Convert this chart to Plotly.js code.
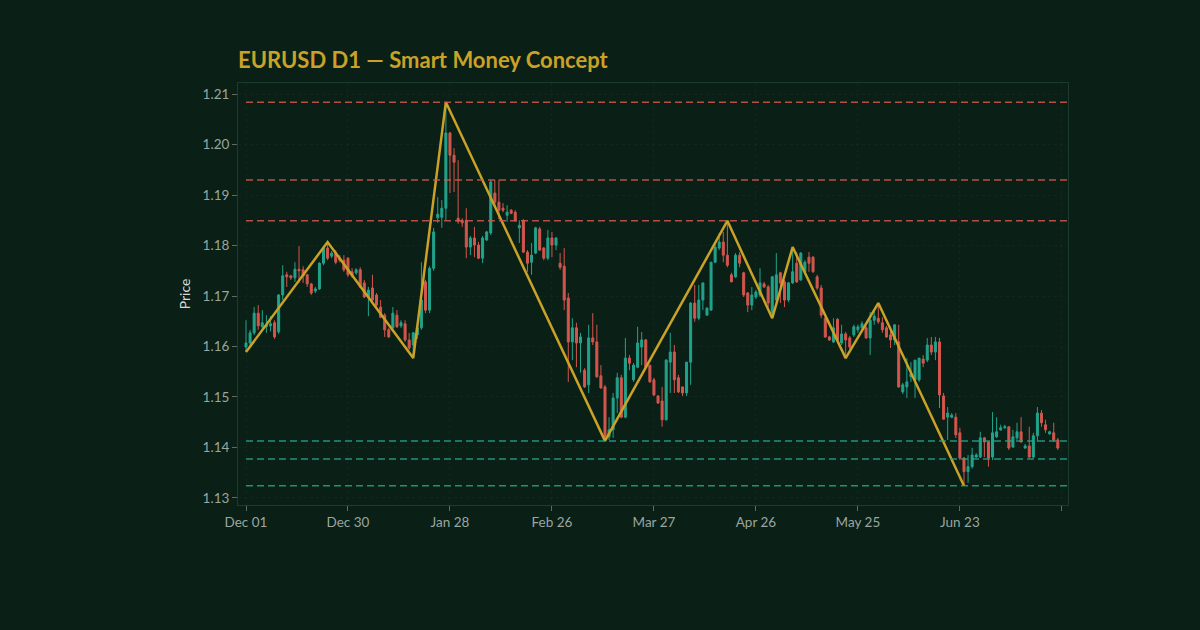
<!DOCTYPE html>
<html>
<head>
<meta charset="utf-8">
<script src="https://cdn.plot.ly/plotly-3.0.1.min.js"></script>
<style>
  html, body { margin: 0; padding: 0; background: #0a1f16; }
  #chart { width: 1200px; height: 630px; }
</style>
</head>
<body>
<div id="chart"></div>
<script>
// ---- Data (EURUSD daily candles) ----
const candleIndex = Array.from({length: 200}, (_, i) => i);

const openPx = [
1.1599,1.1607,1.1627,1.1666,1.1639,1.1639,1.1641,1.1647,1.1629,1.1702,
1.1742,1.1740,1.1736,1.1753,1.1752,1.1742,1.1724,1.1710,1.1714,1.1765,
1.1795,1.1779,1.1785,1.1775,1.1771,1.1775,1.1748,1.1746,1.1752,1.1726,
1.1698,1.1716,1.1702,1.1678,1.1662,1.1633,1.1637,1.1662,1.1641,1.1645,
1.1613,1.1603,1.1623,1.1637,1.1728,1.1672,1.1755,1.1855,1.1856,1.1874,
1.2023,1.1979,1.1854,1.1850,1.1850,1.1797,1.1815,1.1801,1.1775,1.1811,
1.1825,1.1904,1.1886,1.1874,1.1860,1.1870,1.1866,1.1835,1.1850,1.1787,
1.1767,1.1785,1.1833,1.1795,1.1775,1.1815,1.1801,1.1765,1.1759,1.1696,
1.1609,1.1637,1.1607,1.1553,1.1524,1.1617,1.1609,1.1542,1.1520,1.1421,
1.1435,1.1498,1.1538,1.1460,1.1577,1.1534,1.1559,1.1599,1.1613,1.1563,
1.1534,1.1502,1.1492,1.1455,1.1569,1.1589,1.1538,1.1520,1.1508,1.1569,
1.1686,1.1656,1.1692,1.1662,1.1672,1.1767,1.1795,1.1807,1.1781,1.1742,
1.1738,1.1781,1.1746,1.1706,1.1682,1.1698,1.1702,1.1724,1.1718,1.1666,
1.1692,1.1746,1.1728,1.1692,1.1726,1.1765,1.1732,1.1748,1.1777,1.1777,
1.1738,1.1716,1.1656,1.1619,1.1609,1.1654,1.1607,1.1625,1.1617,1.1623,
1.1633,1.1637,1.1637,1.1617,1.1652,1.1656,1.1647,1.1637,1.1623,1.1613,
1.1609,1.1510,1.1520,1.1540,1.1534,1.1534,1.1575,1.1573,1.1603,1.1589,
1.1609,1.1502,1.1460,1.1460,1.1460,1.1429,1.1379,1.1352,1.1362,1.1381,
1.1381,1.1419,1.1411,1.1381,1.1421,1.1435,1.1439,1.1441,1.1401,1.1419,
1.1431,1.1399,1.1403,1.1381,1.1423,1.1468,1.1445,1.1427,1.1429,1.1415
];
const highPx = [
1.1652,1.1633,1.1678,1.1682,1.1672,1.1662,1.1660,1.1652,1.1704,1.1761,
1.1748,1.1742,1.1767,1.1799,1.1759,1.1744,1.1726,1.1718,1.1767,1.1799,
1.1807,1.1789,1.1791,1.1781,1.1781,1.1777,1.1755,1.1755,1.1757,1.1732,
1.1718,1.1742,1.1706,1.1692,1.1666,1.1637,1.1678,1.1672,1.1652,1.1652,
1.1627,1.1629,1.1645,1.1767,1.1732,1.1759,1.1835,1.1896,1.1890,1.2084,
1.2025,1.1993,1.1969,1.1854,1.1874,1.1819,1.1837,1.1807,1.1819,1.1829,
1.1930,1.1930,1.1930,1.1884,1.1880,1.1872,1.1870,1.1850,1.1852,1.1791,
1.1805,1.1837,1.1837,1.1797,1.1831,1.1827,1.1817,1.1785,1.1795,1.1706,
1.1656,1.1647,1.1627,1.1557,1.1643,1.1666,1.1643,1.1563,1.1524,1.1460,
1.1508,1.1548,1.1544,1.1617,1.1583,1.1567,1.1639,1.1629,1.1615,1.1563,
1.1538,1.1504,1.1520,1.1575,1.1627,1.1603,1.1544,1.1520,1.1569,1.1688,
1.1722,1.1722,1.1726,1.1678,1.1767,1.1805,1.1825,1.1827,1.1849,1.1746,
1.1785,1.1787,1.1748,1.1708,1.1718,1.1712,1.1755,1.1728,1.1722,1.1740,
1.1785,1.1748,1.1732,1.1728,1.1797,1.1787,1.1787,1.1771,1.1787,1.1779,
1.1742,1.1722,1.1658,1.1621,1.1656,1.1656,1.1643,1.1629,1.1621,1.1643,
1.1643,1.1650,1.1641,1.1668,1.1672,1.1686,1.1658,1.1641,1.1639,1.1643,
1.1643,1.1528,1.1577,1.1569,1.1573,1.1577,1.1583,1.1617,1.1619,1.1619,
1.1617,1.1508,1.1480,1.1468,1.1468,1.1439,1.1381,1.1385,1.1399,1.1389,
1.1431,1.1421,1.1411,1.1470,1.1460,1.1445,1.1445,1.1441,1.1435,1.1449,
1.1460,1.1407,1.1441,1.1429,1.1480,1.1474,1.1455,1.1433,1.1449,1.1419
];
const lowPx = [
1.1589,1.1599,1.1623,1.1633,1.1633,1.1627,1.1630,1.1615,1.1625,1.1692,
1.1718,1.1732,1.1728,1.1726,1.1726,1.1718,1.1702,1.1706,1.1712,1.1761,
1.1771,1.1775,1.1763,1.1767,1.1748,1.1738,1.1736,1.1742,1.1716,1.1696,
1.1660,1.1688,1.1678,1.1656,1.1619,1.1617,1.1629,1.1637,1.1637,1.1609,
1.1593,1.1577,1.1615,1.1633,1.1666,1.1666,1.1750,1.1845,1.1835,1.1850,
1.1904,1.1906,1.1843,1.1837,1.1775,1.1781,1.1777,1.1773,1.1765,1.1809,
1.1821,1.1876,1.1852,1.1866,1.1847,1.1862,1.1847,1.1805,1.1785,1.1748,
1.1742,1.1783,1.1789,1.1771,1.1771,1.1777,1.1791,1.1752,1.1672,1.1530,
1.1573,1.1559,1.1548,1.1518,1.1508,1.1603,1.1538,1.1516,1.1413,1.1415,
1.1419,1.1468,1.1458,1.1458,1.1553,1.1530,1.1557,1.1563,1.1557,1.1528,
1.1502,1.1486,1.1441,1.1453,1.1508,1.1508,1.1508,1.1502,1.1502,1.1524,
1.1649,1.1652,1.1672,1.1662,1.1672,1.1765,1.1791,1.1767,1.1757,1.1728,
1.1736,1.1757,1.1698,1.1668,1.1672,1.1694,1.1698,1.1716,1.1678,1.1656,
1.1688,1.1686,1.1678,1.1688,1.1724,1.1726,1.1730,1.1746,1.1748,1.1746,
1.1712,1.1656,1.1617,1.1611,1.1607,1.1611,1.1603,1.1577,1.1595,1.1619,
1.1627,1.1633,1.1615,1.1583,1.1643,1.1645,1.1627,1.1617,1.1597,1.1603,
1.1518,1.1506,1.1498,1.1530,1.1498,1.1530,1.1559,1.1569,1.1583,1.1573,
1.1478,1.1455,1.1415,1.1458,1.1419,1.1375,1.1324,1.1330,1.1358,1.1379,
1.1379,1.1381,1.1362,1.1375,1.1419,1.1433,1.1437,1.1395,1.1399,1.1415,
1.1409,1.1397,1.1379,1.1379,1.1411,1.1441,1.1429,1.1425,1.1411,1.1395
];
const closePx = [
1.1607,1.1627,1.1666,1.1641,1.1647,1.1643,1.1645,1.1619,1.1702,1.1740,
1.1738,1.1736,1.1753,1.1750,1.1740,1.1724,1.1706,1.1714,1.1765,1.1795,
1.1775,1.1785,1.1767,1.1771,1.1752,1.1742,1.1740,1.1752,1.1718,1.1698,
1.1712,1.1692,1.1682,1.1658,1.1633,1.1619,1.1666,1.1639,1.1647,1.1613,
1.1597,1.1627,1.1637,1.1692,1.1672,1.1755,1.1827,1.1862,1.1874,1.2023,
1.1979,1.1965,1.1848,1.1845,1.1797,1.1815,1.1801,1.1775,1.1815,1.1827,
1.1926,1.1886,1.1870,1.1870,1.1866,1.1864,1.1850,1.1840,1.1787,1.1765,
1.1781,1.1835,1.1791,1.1775,1.1815,1.1801,1.1815,1.1757,1.1692,1.1609,
1.1637,1.1607,1.1619,1.1520,1.1617,1.1609,1.1540,1.1518,1.1421,1.1435,
1.1498,1.1538,1.1460,1.1577,1.1567,1.1563,1.1607,1.1613,1.1559,1.1530,
1.1504,1.1488,1.1455,1.1573,1.1589,1.1534,1.1510,1.1508,1.1569,1.1686,
1.1656,1.1692,1.1726,1.1676,1.1767,1.1797,1.1807,1.1781,1.1761,1.1728,
1.1781,1.1765,1.1702,1.1682,1.1702,1.1708,1.1726,1.1718,1.1686,1.1738,
1.1742,1.1726,1.1692,1.1726,1.1748,1.1728,1.1785,1.1767,1.1765,1.1748,
1.1716,1.1662,1.1619,1.1613,1.1637,1.1613,1.1625,1.1613,1.1599,1.1639,
1.1639,1.1645,1.1617,1.1652,1.1660,1.1649,1.1633,1.1619,1.1613,1.1643,
1.1520,1.1524,1.1530,1.1546,1.1573,1.1577,1.1567,1.1603,1.1589,1.1609,
1.1504,1.1456,1.1468,1.1464,1.1425,1.1379,1.1352,1.1362,1.1385,1.1385,
1.1419,1.1411,1.1379,1.1429,1.1431,1.1439,1.1441,1.1399,1.1421,1.1431,
1.1411,1.1403,1.1381,1.1423,1.1468,1.1449,1.1435,1.1431,1.1415,1.1399
];

// Swing points of the zigzag (candle index and whether it is a high or a low)
const swingIndex = [0, 20, 41, 49, 88, 118, 129, 134, 147, 155, 176];
const swingType  = ['L','H','L','H','L','H','L','H','L','H','L'];

// Liquidity / structure levels
const resistanceLevels = [1.2084, 1.1930, 1.1849];
const supportLevels    = [1.1413, 1.1377, 1.1324];

// Axis ticks
const xTickVals  = [0, 25, 50, 75, 100, 125, 150, 175, 200];
const xTickText  = ['Dec 01','Dec 30','Jan 28','Feb 26','Mar 27','Apr 26','May 25','Jun 23',''];
const yTickVals  = [1.13, 1.14, 1.15, 1.16, 1.17, 1.18, 1.19, 1.20, 1.21];

// ---- Build figure ----
const BG = '#0a1f16';
const GOLD = '#c9a227';
const UP = '#22a38b';
const DOWN = '#d4564d';
const xRange = [-1.96, 201.5];
const yRange = [1.1286, 1.2122];

const zigX = swingIndex;
const zigY = swingIndex.map((idx, k) => swingType[k] === 'H' ? highPx[idx] : lowPx[idx]);

const traces = [
  {
    type: 'candlestick',
    x: candleIndex, open: openPx, high: highPx, low: lowPx, close: closePx,
    increasing: {line: {color: UP, width: 1}, fillcolor: UP},
    decreasing: {line: {color: DOWN, width: 1}, fillcolor: DOWN},
    whiskerwidth: 0,
    showlegend: false,
    hoverinfo: 'skip'
  },
  {
    type: 'scatter', mode: 'lines',
    x: zigX, y: zigY,
    line: {color: GOLD, width: 2.5},
    showlegend: false, hoverinfo: 'skip'
  }
];

const shapes = [];
resistanceLevels.forEach(lv => shapes.push({
  type: 'line', xref: 'x', yref: 'y', x0: candleIndex[0], x1: xRange[1], y0: lv, y1: lv,
  line: {color: 'rgba(214,88,76,0.85)', width: 1.5, dash: '7px,4px'}, layer: 'above'
}));
supportLevels.forEach(lv => shapes.push({
  type: 'line', xref: 'x', yref: 'y', x0: candleIndex[0], x1: xRange[1], y0: lv, y1: lv,
  line: {color: 'rgba(38,166,142,0.85)', width: 1.5, dash: '7px,4px'}, layer: 'above'
}));

const FONT = 'Lato, "Noto Sans", sans-serif';
const layout = {
  width: 1200, height: 630,
  paper_bgcolor: BG, plot_bgcolor: BG,
  margin: {l: 238, r: 132, t: 83, b: 125},
  font: {family: FONT, color: '#9aa6a0', size: 13},
  title: {
    text: '<b>EURUSD D1 — Smart Money Concept</b>',
    font: {family: FONT, size: 22, color: GOLD},
    x: 238/1200, xref: 'container', xanchor: 'left',
    y: 1 - 60/630, yref: 'container', yanchor: 'middle'
  },
  xaxis: {
    range: xRange, type: 'linear',
    tickvals: xTickVals, ticktext: xTickText,
    ticks: 'outside', ticklen: 5, tickcolor: '#5d6d66',
    showgrid: true, gridcolor: 'rgba(255,255,255,0.035)', griddash: 'dot',
    zeroline: false,
    showline: true, linecolor: '#1d3a2f', mirror: true,
    rangeslider: {visible: false},
    tickfont: {size: 13.5, color: '#9aa6a0'}
  },
  yaxis: {
    range: yRange,
    tickvals: yTickVals, tickformat: '.2f',
    ticks: 'outside', ticklen: 5, tickcolor: '#5d6d66',
    showgrid: true, gridcolor: 'rgba(255,255,255,0.035)', griddash: 'dot',
    zeroline: false,
    showline: true, linecolor: '#1d3a2f', mirror: true,
    tickfont: {size: 13.5, color: '#9aa6a0'},
    title: {text: 'Price', font: {size: 14, color: '#d6dcd9'}, standoff: 8}
  },
  shapes: shapes,
  showlegend: false
};

Plotly.newPlot('chart', traces, layout, {displayModeBar: false, staticPlot: true});
</script>
</body>
</html>
